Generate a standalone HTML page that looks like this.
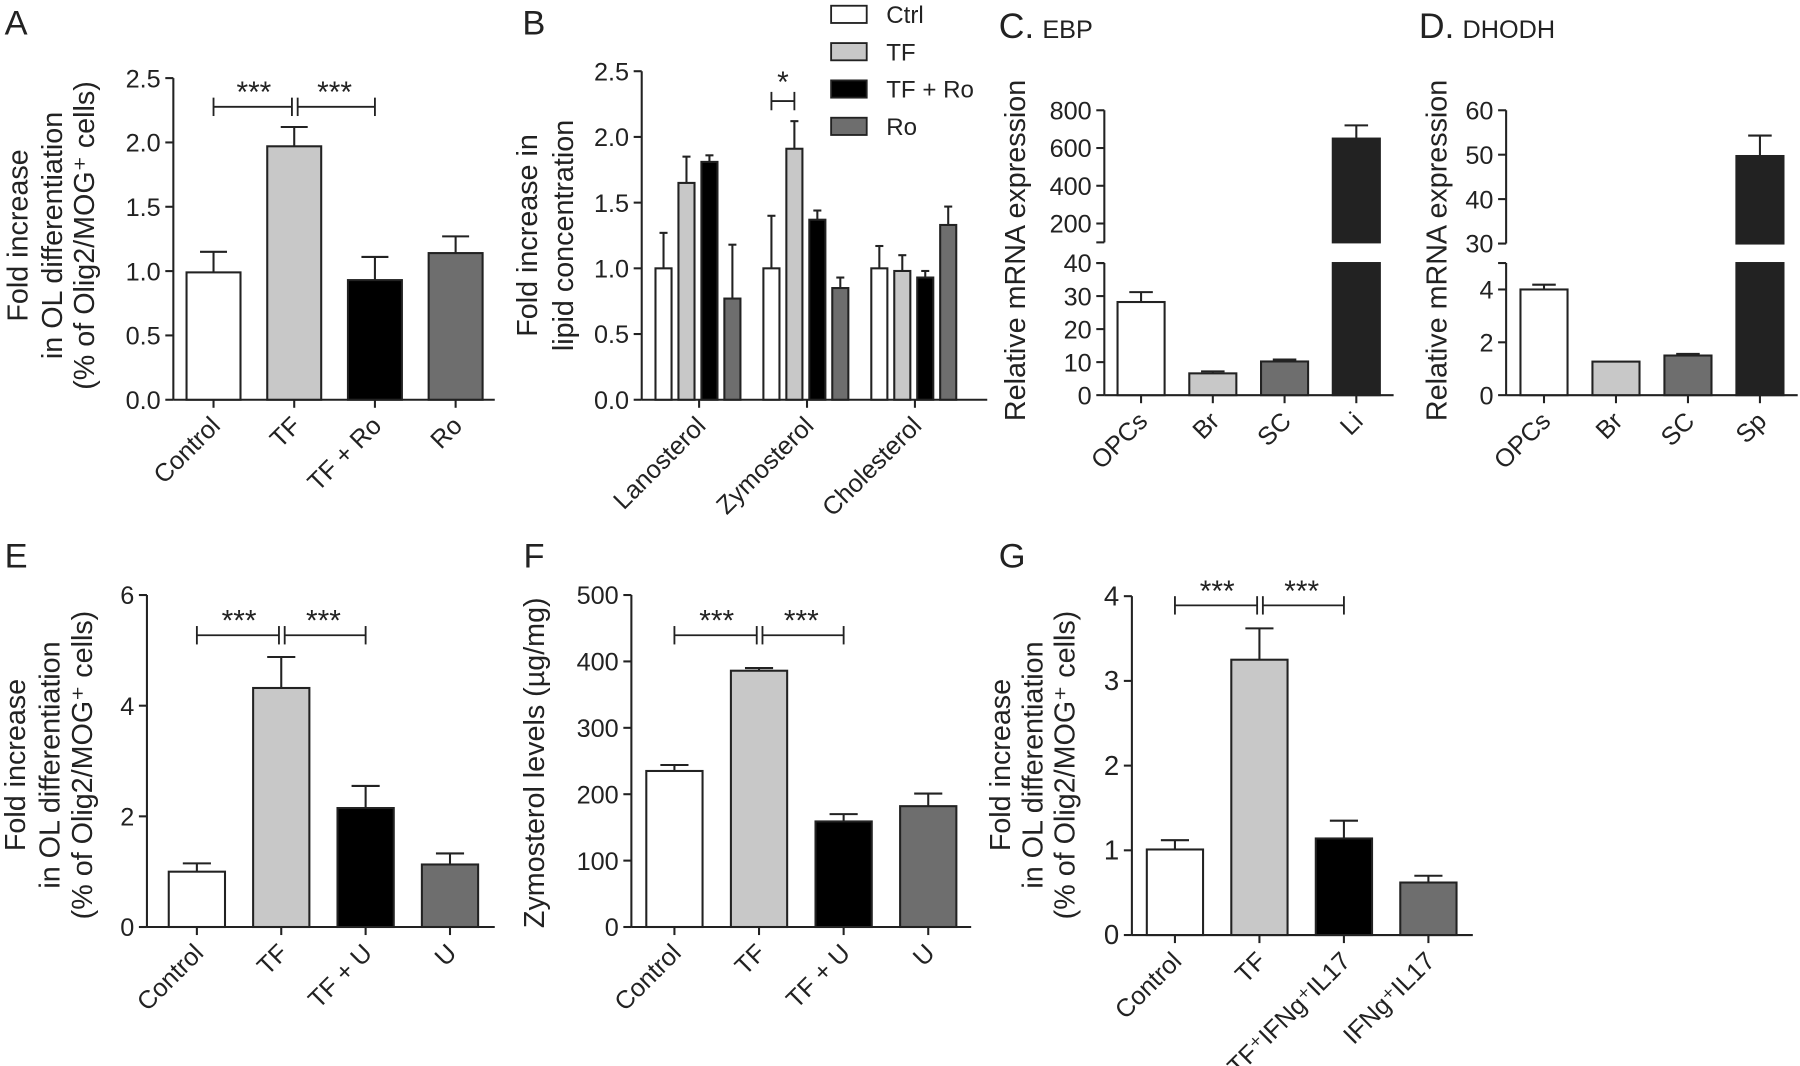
<!DOCTYPE html>
<html><head><meta charset="utf-8">
<style>
html,body{margin:0;padding:0;background:#fff;}
svg{display:block;}
text{font-family:"Liberation Sans",sans-serif;fill:#222;}
</style></head>
<body>
<svg id="fig" width="1800" height="1066" viewBox="0 0 1568 928" preserveAspectRatio="none" xmlns="http://www.w3.org/2000/svg"></svg>
<script>
// ---- Panel A ----
const aCats=["Control","TF","TF + Ro","Ro"];
const aVals=[0.99,1.97,0.93,1.14];
const aErrTop=[1.15,2.12,1.11,1.27];
const aTicks=[0,0.5,1,1.5,2,2.5];
const aTickLabels=["0.0","0.5","1.0","1.5","2.0","2.5"];
// ---- Panel B ----
const bGroups=["Lanosterol","Zymosterol","Cholesterol"];
const bSeries=["Ctrl","TF","TF + Ro","Ro"];
const bCtrl=[1.0,1.0,1.0];
const bTF=[1.65,1.91,0.98];
const bTFRo=[1.81,1.37,0.93];
const bRo=[0.77,0.85,1.33];
const bCtrlErr=[1.27,1.40,1.17];
const bTFErr=[1.85,2.12,1.10];
const bTFRoErr=[1.86,1.44,0.98];
const bRoErr=[1.18,0.93,1.47];
const bTicks=[0,0.5,1,1.5,2,2.5];
const bTickLabels=["0.0","0.5","1.0","1.5","2.0","2.5"];
// ---- Panel C ----
const cCats=["OPCs","Br","SC","Li"];
const cVals=[28.2,6.6,10.2,650];
const cErrTop=[31.2,7.2,10.8,720];
const cLowTicks=[0,10,20,30,40];
const cHighTicks=[200,400,600,800];
// ---- Panel D ----
const dCats=["OPCs","Br","SC","Sp"];
const dVals=[4.0,1.27,1.5,49.7];
const dErrTop=[4.18,1.27,1.56,54.3];
const dLowTicks=[0,2,4];
const dHighTicks=[30,40,50,60];
// ---- Panel E ----
const eCats=["Control","TF","TF + U","U"];
const eVals=[1.0,4.32,2.15,1.13];
const eErrTop=[1.15,4.88,2.55,1.33];
const eTicks=[0,2,4,6];
// ---- Panel F ----
const fCats=["Control","TF","TF + U","U"];
const fVals=[235,386,159,182];
const fErrTop=[244,390,170,201];
const fTicks=[0,100,200,300,400,500];
// ---- Panel G ----
const gCats=["Control","TF","TF\u207AIFNg\u207AIL17","IFNg\u207AIL17"];
const gVals=[1.01,3.25,1.14,0.62];
const gErrTop=[1.12,3.62,1.35,0.70];
const gTicks=[0,1,2,3,4];

const FILLS=["#ffffff","#c8c8c8","#000000","#6e6e6e"];
const svg=document.getElementById('fig');
const NS="http://www.w3.org/2000/svg";
function mk(tag,attrs,parent){const e=document.createElementNS(NS,tag);for(const k in attrs)e.setAttribute(k,attrs[k]);(parent||svg).appendChild(e);return e;}
function line(x1,y1,x2,y2,g,w){return mk('line',{x1,y1,x2,y2,stroke:'#222','stroke-width':w||1.8},g);}
function txt(s,x,y,size,anchor,g,extra){const t=mk('text',Object.assign({x,y,'font-size':size,'text-anchor':anchor||'start'},extra||{}),g);t.textContent=s;return t;}
function scale(v0,v1,p0,p1){return v=>p0+(v-v0)/(v1-v0)*(p1-p0);}

function letter(s,x,y,name){const t=txt(s,x,y,30,'start');}
function ytitle(lines,xs,cy,name,size){const g=mk('g',{});
  lines.forEach((l,i)=>{txt(l,xs[i],cy,size||25,'middle',g,{transform:`rotate(-90 ${xs[i]} ${cy})`});});}
function bracket(x1,x2,y,g){line(x1,y,x2,y,g,1.6);line(x1,y-8,x1,y+8,g,1.6);line(x2,y-8,x2,y+8,g,1.6);}
function stars(s,x,y,g){txt(s,x,y+4,26,'middle',g);}

function bar(g,cx,w,yv,y0,yerr,fill,name){
  const r=mk('rect',{x:cx-w/2,y:yv,width:w,height:y0-yv,fill,stroke:'#222','stroke-width':1.8},g);
  
  if(yerr<yv-0.5){line(cx,yv,cx,yerr,g,1.8);line(cx-w/4,yerr,cx+w/4,yerr,g,1.8);}
}
function catLabel(s,cx,y0,g,size){const t=txt(s,cx+7,y0+24,size||22,'end',g,{transform:`rotate(-45 ${cx+7} ${y0+24})`});}

function simplePanel(o){
  const g=mk('g',{});
  const ys=scale(o.ticks[0],o.ticks[o.ticks.length-1],o.y0,o.yTop);
  const ax=mk('g',{},g);
  line(o.x0,o.y0,o.x0,ys(o.ticks[o.ticks.length-1]),ax);
  o.ticks.forEach((t,i)=>{const y=ys(t);line(o.x0-7,y,o.x0,y,ax);txt(o.tickLabels?o.tickLabels[i]:String(t),o.x0-11,y+8,o.tickSize||22,'end',ax);});
  const xa=mk('g',{},g);
  line(o.x0,o.y0,o.xEnd,o.y0,xa);
  o.cats.forEach((c,i)=>{const cx=o.first+o.pitch*i;
    bar(g,cx,o.w,ys(o.vals[i]),o.y0,ys(o.err[i]),FILLS[i],'bar-'+c.toLowerCase().replace(/[^a-z0-9]+/g,'-'));
    line(cx,o.y0,cx,o.y0+7,xa);catLabel(c,cx,o.y0,xa,o.catSize);});
  if(o.sig){const c0=o.first,c1=o.first+o.pitch,c2=o.first+2*o.pitch;
    const sg=mk('g',{},g);
    bracket(c0,c1-2,o.sigY,sg);bracket(c1+3,c2,o.sigY,sg);
    stars('***',(c0+c1)/2,o.sigY-8,sg);stars('***',(c1+c2)/2,o.sigY-8,sg);}
  return ys;
}

// Panel A
letter('A',4,30,'panel-label-a');
ytitle(['Fold increase','in OL differentiation','(% of Olig2/MOG\u207A cells)'],[24,54,82],205,'y-axis-title-a');
simplePanel({name:'panel-a',x0:151,y0:348,yTop:68,ticks:aTicks,tickLabels:aTickLabels,xEnd:431,cats:aCats,vals:aVals,err:aErrTop,first:186,pitch:70.3,w:47,sig:true,sigY:93});

// Panel B
letter('B',455,30,'panel-label-b');
ytitle(['Fold increase in','lipid concentration'],[468,499],205,'y-axis-title-b');
(function(){
  const g=mk('g',{});
  const x0=559,y0=348,yTop=62,xEnd=860;
  const ys=scale(0,2.5,y0,yTop);
  const ax=mk('g',{},g);
  line(x0,y0,x0,yTop,ax);
  bTicks.forEach((t,i)=>{const y=ys(t);line(x0-7,y,x0,y,ax);txt(bTickLabels[i],x0-11,y+8,22,'end',ax);});
  const xa=mk('g',{},g);
  line(x0,y0,xEnd,y0,xa);
  const series=[bCtrl,bTF,bTFRo,bRo],errs=[bCtrlErr,bTFErr,bTFRoErr,bRoErr];
  const offs=[-31,-11,9,29];
  bGroups.forEach((gr,gi)=>{const tc=609+94*gi;
    series.forEach((s,si)=>{bar(g,tc+offs[si],14,ys(s[gi]),y0,ys(errs[si][gi]),FILLS[si],'bar-'+gr.toLowerCase()+'-'+bSeries[si].toLowerCase().replace(/[^a-z]+/g,'-'));});
    line(tc,y0,tc,y0+7,xa);catLabel(gr,tc,y0,xa);});
  const sg=mk('g',{},g);
  bracket(609+94+offs[0],609+94+offs[1],88,sg);stars('*',609+94+(offs[0]+offs[1])/2,76,sg);
  const lg=mk('g',{});
  bSeries.forEach((s,i)=>{const e=mk('g',{},lg);
    mk('rect',{x:724,y:5+32.5*i,width:31,height:15,fill:FILLS[i],stroke:'#222','stroke-width':1.6},e);
    txt(s,772,20+32.5*i,21,'start',e);});
})();

// Broken-axis panels C and D
function brokenPanel(o){
  const g=mk('g',{});
  const lo=scale(o.lowMin,o.lowMax,o.y0,o.lowTopY);
  const hi=scale(o.hiMin,o.hiMax,o.hiBotY,o.hiTopY);
  const ax=mk('g',{},g);
  line(o.x0,o.y0,o.x0,o.lowTopY,ax);line(o.x0,o.hiBotY,o.x0,hi(o.hiTicks[o.hiTicks.length-1]),ax);
  line(o.x0-7,o.lowTopY,o.x0,o.lowTopY,ax);line(o.x0-7,o.hiBotY,o.x0,o.hiBotY,ax);
  o.lowTicks.forEach(t=>{const y=lo(t);line(o.x0-7,y,o.x0,y,ax);txt(String(t),o.x0-11,y+8,22,'end',ax);});
  if(o.lowTopLabel)txt(o.lowTopLabel,o.x0-11,o.lowTopY+8,22,'end',ax);
  o.hiTicks.forEach(t=>{const y=hi(t);line(o.x0-7,y,o.x0,y,ax);txt(String(t),o.x0-11,y+8,22,'end',ax);});
  const xa=mk('g',{},g);
  line(o.x0,o.y0,o.xEnd,o.y0,xa);
  o.cats.forEach((c,i)=>{const cx=o.first+o.pitch*i;const v=o.vals[i];const f=o.fills[i];
    const nm='bar-'+c.toLowerCase();
    if(v>o.lowMax){
      bar(g,cx,o.w,o.lowTopY,o.y0,o.lowTopY,f,nm+'-lower');
      bar(g,cx,o.w,hi(v),o.hiBotY,hi(o.err[i]),f,nm+'-upper');
    } else bar(g,cx,o.w,lo(v),o.y0,lo(o.err[i]),f,nm);
    line(cx,o.y0,cx,o.y0+7,xa);catLabel(c,cx,o.y0,xa,22);});
}
const t1=txt('C.',870,33,31,'start');
const t1b=txt('EBP',908,33,22,'start');
ytitle(['Relative mRNA expression'],[893],218,'y-axis-title-c',25);
brokenPanel({name:'panel-c',x0:962,y0:344,lowMin:0,lowMax:40,lowTopY:229,hiMin:100,hiMax:800,hiBotY:211,hiTopY:96,
  lowTicks:cLowTicks,hiTicks:cHighTicks,xEnd:1214,cats:cCats,vals:cVals,err:cErrTop,first:994,pitch:62.5,w:41,
  fills:["#ffffff","#c8c8c8","#6e6e6e","#222222"]});
const t2=txt('D.',1236,33,31,'start');
const t2b=txt('DHODH',1274,33,22,'start');
ytitle(['Relative mRNA expression'],[1260],218,'y-axis-title-d',25);
brokenPanel({name:'panel-d',x0:1312,y0:344,lowMin:0,lowMax:5,lowTopY:229,hiMin:30,hiMax:60,hiBotY:212,hiTopY:96,
  lowTicks:dLowTicks,hiTicks:dHighTicks,xEnd:1566,cats:dCats,vals:dVals,err:dErrTop,first:1345,pitch:62.7,w:41,
  fills:["#ffffff","#c8c8c8","#6e6e6e","#222222"]});

// Panel E
letter('E',4,494,'panel-label-e');
ytitle(['Fold increase','in OL differentiation','(% of Olig2/MOG\u207A cells)'],[22,52,80],666,'y-axis-title-e');
simplePanel({name:'panel-e',x0:128,y0:807,yTop:518,ticks:eTicks,xEnd:431,cats:eCats,vals:eVals,err:eErrTop,first:171.5,pitch:73.5,w:49,sig:true,sigY:553});

// Panel F
letter('F',456,494,'panel-label-f');
ytitle(['Zymosterol levels (\u00B5g/mg)'],[474],664,'y-axis-title-f');
simplePanel({name:'panel-f',x0:550,y0:807,yTop:518,ticks:fTicks,xEnd:846,cats:fCats,vals:fVals,err:fErrTop,first:587.5,pitch:73.7,w:49,sig:true,sigY:553});

// Panel G
letter('G',870,494,'panel-label-g');
ytitle(['Fold increase','in OL differentiation','(% of Olig2/MOG\u207A cells)'],[880,908,936],666,'y-axis-title-g');
simplePanel({name:'panel-g',x0:986,y0:814,yTop:519,ticks:gTicks,xEnd:1283,cats:gCats,vals:gVals,err:gErrTop,first:1023.5,pitch:73.6,w:49,sig:true,sigY:527,tickSize:24,catSize:22});
</script>
</body></html>
